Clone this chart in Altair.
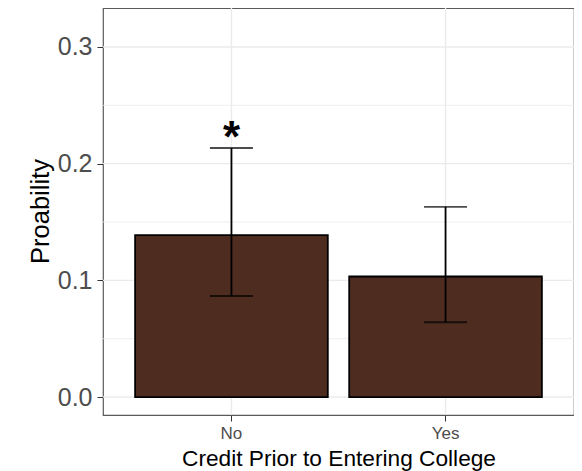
import altair as alt
import pandas as pd

categories = ["No", "Yes"]
probability = [0.1388, 0.1033]
ci_low = [0.0866, 0.0641]
ci_high = [0.2134, 0.1630]
significance = ["*", ""]

y_major = [0.0, 0.1, 0.2, 0.3]
y_minor = [0.05, 0.15, 0.25]

FONT = "Liberation Sans"

df = pd.DataFrame({
    "cat": categories,
    "p": probability,
    "lo": ci_low,
    "hi": ci_high,
    "sig": significance,
})
major_df = pd.DataFrame({"p": y_major})
minor_df = pd.DataFrame({"p": y_minor})
cat_df = pd.DataFrame({"cat": categories})

x_scale = alt.Scale(domain=categories, paddingInner=0.1, paddingOuter=0.15)
y_scale = alt.Scale(domain=[-0.0154, 0.3334], nice=False, zero=False)

x_axis = alt.Axis(
    title="Credit Prior to Entering College",
    labelAngle=0, labelFont=FONT, labelFontSize=17, labelColor="#4d4d4d",
    labelPadding=4, tickSize=6, tickColor="#333333", tickWidth=1,
    domain=False, grid=False,
    titleFont=FONT, titleFontSize=22.7, titleFontWeight="normal", titleColor="black",
    titleY=50, titleBaseline="alphabetic",
)
y_axis = alt.Axis(
    title="Proability", values=y_major, format=".1f",
    labelFont=FONT, labelFontSize=25, labelColor="#4d4d4d",
    labelPadding=5, tickSize=6, tickColor="#333333", tickWidth=1,
    domain=False, grid=False,
    titleFont=FONT, titleFontSize=25.5, titleFontWeight="normal", titleColor="black",
    titleAngle=-90, titleX=-55, titleY=203, titleAlign="center", titleBaseline="alphabetic",
)

X = alt.X("cat:N", scale=x_scale, axis=x_axis)

minor_grid = alt.Chart(minor_df).mark_rule(color="#ebebeb", strokeWidth=0.8).encode(
    y=alt.Y("p:Q", scale=y_scale, axis=y_axis)
)
major_grid = alt.Chart(major_df).mark_rule(color="#ebebeb", strokeWidth=1.4).encode(
    y=alt.Y("p:Q", scale=y_scale, axis=y_axis)
)
vert_grid = alt.Chart(cat_df).mark_rule(color="#ebebeb", strokeWidth=1.4).encode(x=X)

bars = alt.Chart(df).mark_bar(color="#4f2c20", stroke="black", strokeWidth=1.8).encode(
    x=X,
    y=alt.Y("p:Q", scale=y_scale, axis=y_axis),
    y2=alt.datum(0),
)

err = alt.Chart(df).mark_rule(color="black", strokeWidth=1.8).encode(
    x=X,
    y=alt.Y("lo:Q", scale=y_scale, axis=y_axis),
    y2="hi:Q",
)
caps_hi = alt.Chart(df).mark_tick(color="black", size=43, thickness=1.8, orient="horizontal").encode(
    x=X,
    y=alt.Y("hi:Q", scale=y_scale, axis=y_axis),
)
caps_lo = alt.Chart(df).mark_tick(color="black", size=43, thickness=1.8, orient="horizontal").encode(
    x=X,
    y=alt.Y("lo:Q", scale=y_scale, axis=y_axis),
)
stars = alt.Chart(df).mark_text(
    font=FONT, fontSize=44, fontWeight="bold", color="black", baseline="alphabetic", dy=4
).encode(
    x=X,
    y=alt.Y("hi:Q", scale=y_scale, axis=y_axis),
    text="sig:N",
)

chart = alt.layer(
    minor_grid, major_grid, vert_grid, bars, err, caps_hi, caps_lo, stars
).properties(
    width=471, height=407,
    autosize=alt.AutoSizeParams(type="none"),
    padding={"left": 95, "top": 0, "right": 0, "bottom": 56},
    background="white",
).configure_view(
    stroke="#5a5a5a", strokeWidth=1.2
)

chart.save("out.html", embed_options={"renderer": "svg", "actions": False})
